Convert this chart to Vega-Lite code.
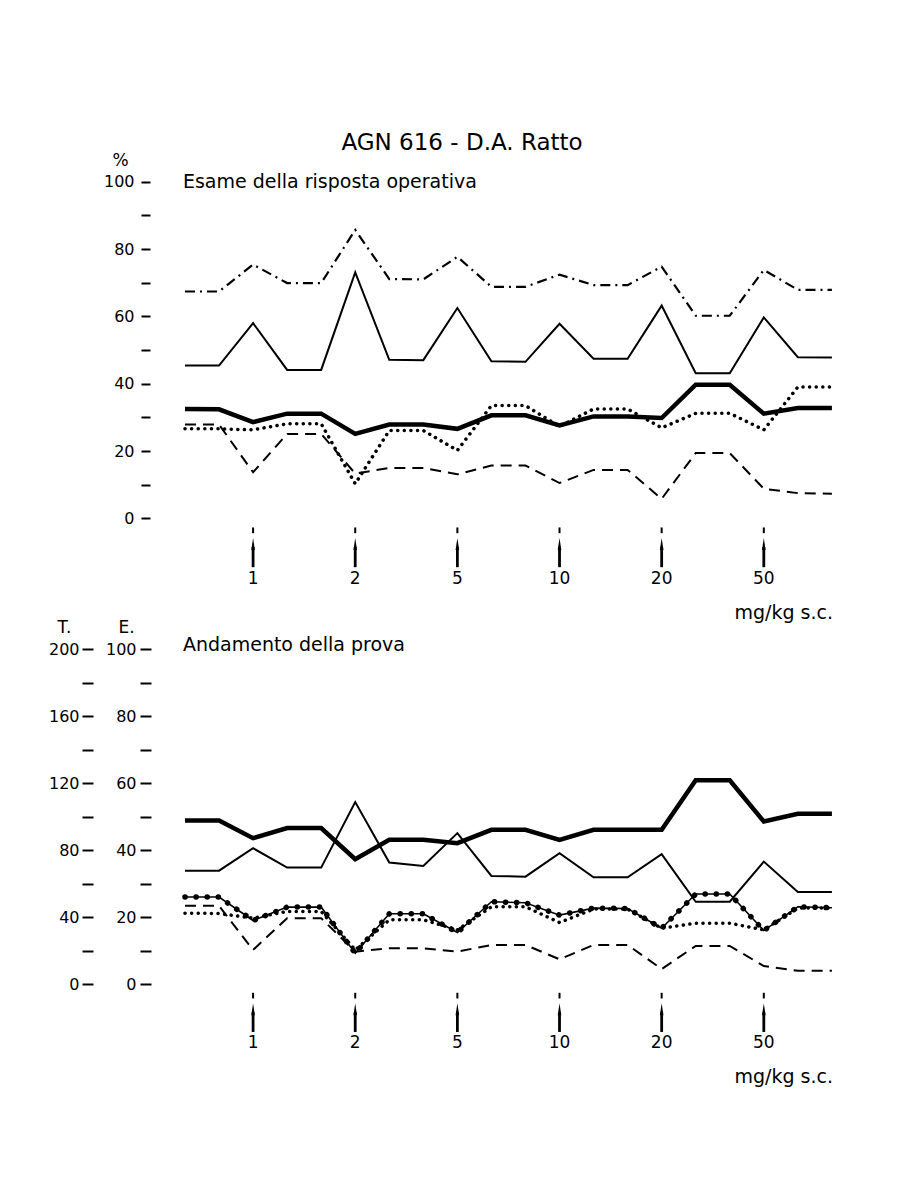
{
  "$schema": "https://vega.github.io/schema/vega-lite/v6.json",
  "width": 900,
  "height": 1200,
  "autosize": {"type": "none"},
  "padding": 0,
  "background": "white",
  "config": {"view": {"stroke": null}, "font": "DejaVu Sans", "text": {"font": "DejaVu Sans", "color": "black"}},
  "datasets": {
    "top": [
      {"i":0,"s":"dashdot","v":67.4},{"i":1,"s":"dashdot","v":67.4},{"i":2,"s":"dashdot","v":75.4},{"i":3,"s":"dashdot","v":69.9},{"i":4,"s":"dashdot","v":69.9},
      {"i":5,"s":"dashdot","v":85.7},{"i":6,"s":"dashdot","v":71.1},{"i":7,"s":"dashdot","v":71.0},{"i":8,"s":"dashdot","v":77.7},{"i":9,"s":"dashdot","v":68.8},
      {"i":10,"s":"dashdot","v":68.8},{"i":11,"s":"dashdot","v":72.4},{"i":12,"s":"dashdot","v":69.3},{"i":13,"s":"dashdot","v":69.3},{"i":14,"s":"dashdot","v":74.8},
      {"i":15,"s":"dashdot","v":60.2},{"i":16,"s":"dashdot","v":60.2},{"i":17,"s":"dashdot","v":73.8},{"i":18,"s":"dashdot","v":67.9},{"i":19,"s":"dashdot","v":67.9},
      {"i":0,"s":"thin","v":45.4},{"i":1,"s":"thin","v":45.4},{"i":2,"s":"thin","v":58.0},{"i":3,"s":"thin","v":44.1},{"i":4,"s":"thin","v":44.1},
      {"i":5,"s":"thin","v":73.1},{"i":6,"s":"thin","v":47.1},{"i":7,"s":"thin","v":47.0},{"i":8,"s":"thin","v":62.5},{"i":9,"s":"thin","v":46.7},
      {"i":10,"s":"thin","v":46.5},{"i":11,"s":"thin","v":57.8},{"i":12,"s":"thin","v":47.4},{"i":13,"s":"thin","v":47.4},{"i":14,"s":"thin","v":63.2},
      {"i":15,"s":"thin","v":43.1},{"i":16,"s":"thin","v":43.1},{"i":17,"s":"thin","v":59.7},{"i":18,"s":"thin","v":47.9},{"i":19,"s":"thin","v":47.8},
      {"i":0,"s":"thick","v":32.5},{"i":1,"s":"thick","v":32.4},{"i":2,"s":"thick","v":28.6},{"i":3,"s":"thick","v":31.1},{"i":4,"s":"thick","v":31.1},
      {"i":5,"s":"thick","v":25.1},{"i":6,"s":"thick","v":27.9},{"i":7,"s":"thick","v":27.9},{"i":8,"s":"thick","v":26.6},{"i":9,"s":"thick","v":30.6},
      {"i":10,"s":"thick","v":30.6},{"i":11,"s":"thick","v":27.6},{"i":12,"s":"thick","v":30.3},{"i":13,"s":"thick","v":30.3},{"i":14,"s":"thick","v":29.8},
      {"i":15,"s":"thick","v":39.7},{"i":16,"s":"thick","v":39.7},{"i":17,"s":"thick","v":31.1},{"i":18,"s":"thick","v":32.8},{"i":19,"s":"thick","v":32.8},
      {"i":0,"s":"dotted","v":26.6},{"i":1,"s":"dotted","v":26.6},{"i":2,"s":"dotted","v":26.3},{"i":3,"s":"dotted","v":28.1},{"i":4,"s":"dotted","v":28.1},
      {"i":5,"s":"dotted","v":10.3},{"i":6,"s":"dotted","v":26.1},{"i":7,"s":"dotted","v":26.1},{"i":8,"s":"dotted","v":20.2},{"i":9,"s":"dotted","v":33.5},
      {"i":10,"s":"dotted","v":33.5},{"i":11,"s":"dotted","v":27.3},{"i":12,"s":"dotted","v":32.5},{"i":13,"s":"dotted","v":32.5},{"i":14,"s":"dotted","v":26.9},
      {"i":15,"s":"dotted","v":31.2},{"i":16,"s":"dotted","v":31.2},{"i":17,"s":"dotted","v":26.3},{"i":18,"s":"dotted","v":39.0},{"i":19,"s":"dotted","v":39.0},
      {"i":0,"s":"dashed","v":27.9},{"i":1,"s":"dashed","v":27.9},{"i":2,"s":"dashed","v":13.7},{"i":3,"s":"dashed","v":25.1},{"i":4,"s":"dashed","v":25.1},
      {"i":5,"s":"dashed","v":13.3},{"i":6,"s":"dashed","v":15.0},{"i":7,"s":"dashed","v":15.0},{"i":8,"s":"dashed","v":13.1},{"i":9,"s":"dashed","v":15.7},
      {"i":10,"s":"dashed","v":15.7},{"i":11,"s":"dashed","v":10.5},{"i":12,"s":"dashed","v":14.4},{"i":13,"s":"dashed","v":14.4},{"i":14,"s":"dashed","v":5.8},
      {"i":15,"s":"dashed","v":19.4},{"i":16,"s":"dashed","v":19.4},{"i":17,"s":"dashed","v":8.8},{"i":18,"s":"dashed","v":7.5},{"i":19,"s":"dashed","v":7.3}
    ],
    "bottom": [
      {"i":0,"s":"thick","v":48.9},{"i":1,"s":"thick","v":48.9},{"i":2,"s":"thick","v":43.6},{"i":3,"s":"thick","v":46.6},{"i":4,"s":"thick","v":46.6},
      {"i":5,"s":"thick","v":37.3},{"i":6,"s":"thick","v":43.1},{"i":7,"s":"thick","v":43.1},{"i":8,"s":"thick","v":42.1},{"i":9,"s":"thick","v":46.1},
      {"i":10,"s":"thick","v":46.1},{"i":11,"s":"thick","v":43.1},{"i":12,"s":"thick","v":46.1},{"i":13,"s":"thick","v":46.1},{"i":14,"s":"thick","v":46.1},
      {"i":15,"s":"thick","v":60.9},{"i":16,"s":"thick","v":60.9},{"i":17,"s":"thick","v":48.6},{"i":18,"s":"thick","v":50.9},{"i":19,"s":"thick","v":50.9},
      {"i":0,"s":"thin","v":33.9},{"i":1,"s":"thin","v":33.9},{"i":2,"s":"thin","v":40.6},{"i":3,"s":"thin","v":34.8},{"i":4,"s":"thin","v":34.8},
      {"i":5,"s":"thin","v":54.4},{"i":6,"s":"thin","v":36.3},{"i":7,"s":"thin","v":35.3},{"i":8,"s":"thin","v":45.1},{"i":9,"s":"thin","v":32.3},
      {"i":10,"s":"thin","v":32.1},{"i":11,"s":"thin","v":39.1},{"i":12,"s":"thin","v":31.9},{"i":13,"s":"thin","v":31.9},{"i":14,"s":"thin","v":38.8},
      {"i":15,"s":"thin","v":24.6},{"i":16,"s":"thin","v":24.6},{"i":17,"s":"thin","v":36.6},{"i":18,"s":"thin","v":27.5},{"i":19,"s":"thin","v":27.5},
      {"i":0,"s":"dotsolid","v":26.0},{"i":1,"s":"dotsolid","v":26.0},{"i":2,"s":"dotsolid","v":19.0},{"i":3,"s":"dotsolid","v":23.0},{"i":4,"s":"dotsolid","v":23.0},
      {"i":5,"s":"dotsolid","v":9.2},{"i":6,"s":"dotsolid","v":21.0},{"i":7,"s":"dotsolid","v":21.0},{"i":8,"s":"dotsolid","v":15.4},{"i":9,"s":"dotsolid","v":24.6},
      {"i":10,"s":"dotsolid","v":24.3},{"i":11,"s":"dotsolid","v":20.6},{"i":12,"s":"dotsolid","v":22.7},{"i":13,"s":"dotsolid","v":22.6},{"i":14,"s":"dotsolid","v":16.7},
      {"i":15,"s":"dotsolid","v":26.9},{"i":16,"s":"dotsolid","v":26.9},{"i":17,"s":"dotsolid","v":16.0},{"i":18,"s":"dotsolid","v":23.1},{"i":19,"s":"dotsolid","v":22.8},
      {"i":0,"s":"dotted","v":21.2},{"i":1,"s":"dotted","v":21.1},{"i":2,"s":"dotted","v":19.7},{"i":3,"s":"dotted","v":21.7},{"i":4,"s":"dotted","v":21.7},
      {"i":5,"s":"dotted","v":10.2},{"i":6,"s":"dotted","v":19.2},{"i":7,"s":"dotted","v":19.2},{"i":8,"s":"dotted","v":16.2},{"i":9,"s":"dotted","v":23.1},
      {"i":10,"s":"dotted","v":23.1},{"i":11,"s":"dotted","v":18.4},{"i":12,"s":"dotted","v":22.4},{"i":13,"s":"dotted","v":22.4},{"i":14,"s":"dotted","v":16.7},
      {"i":15,"s":"dotted","v":18.2},{"i":16,"s":"dotted","v":18.2},{"i":17,"s":"dotted","v":16.2},{"i":18,"s":"dotted","v":22.7},{"i":19,"s":"dotted","v":22.7},
      {"i":0,"s":"dashed","v":23.4},{"i":1,"s":"dashed","v":23.4},{"i":2,"s":"dashed","v":10.2},{"i":3,"s":"dashed","v":19.7},{"i":4,"s":"dashed","v":19.7},
      {"i":5,"s":"dashed","v":9.7},{"i":6,"s":"dashed","v":10.7},{"i":7,"s":"dashed","v":10.7},{"i":8,"s":"dashed","v":9.7},{"i":9,"s":"dashed","v":11.7},
      {"i":10,"s":"dashed","v":11.7},{"i":11,"s":"dashed","v":7.4},{"i":12,"s":"dashed","v":11.7},{"i":13,"s":"dashed","v":11.7},{"i":14,"s":"dashed","v":4.5},
      {"i":15,"s":"dashed","v":11.4},{"i":16,"s":"dashed","v":11.4},{"i":17,"s":"dashed","v":5.4},{"i":18,"s":"dashed","v":4.0},{"i":19,"s":"dashed","v":4.0}
    ],
    "doses": [
      {"i":2,"dose":"1"},{"i":5,"dose":"2"},{"i":8,"dose":"5"},{"i":11,"dose":"10"},{"i":14,"dose":"20"},{"i":17,"dose":"50"}
    ]
  },
  "layer": [
    {
      "layer": [
        {
          "data": {"name": "top"},
          "transform": [{"filter": "datum.s === 'dashdot'"}],
          "mark": {"type": "line", "color": "black", "strokeWidth": 2.2, "strokeDash": [10, 5, 2, 5]},
          "encoding": {
            "x": {"field": "i", "type": "quantitative", "scale": {"domain": [-5.433, 21.0], "nice": false, "zero": false}, "axis": null},
            "y": {"field": "v", "type": "quantitative", "scale": {"domain": [-202.5, 154.0], "nice": false, "zero": false},
              "axis": {"orient": "left", "offset": -150, "values": [0,10,20,30,40,50,60,70,80,90,100],
                "labelExpr": "datum.value % 20 === 0 ? datum.label : ''",
                "domain": false, "grid": false, "tickSize": 9, "tickWidth": 2, "tickColor": "black",
                "labelPadding": 7, "labelFontSize": 16, "labelColor": "black", "labelFont": "DejaVu Sans",
                "labelOverlap": false, "labelFlush": false, "labelBound": false,
                "title": "%", "titleAngle": 0, "titleX": -30, "titleY": 160, "titleAlign": "center", "titleBaseline": "middle",
                "titleFontSize": 17, "titleFontWeight": "normal", "titleColor": "black", "titleFont": "DejaVu Sans"}}
          }
        },
        {
          "data": {"name": "top"},
          "transform": [{"filter": "datum.s === 'thin'"}],
          "mark": {"type": "line", "color": "black", "strokeWidth": 2},
          "encoding": {
            "x": {"field": "i", "type": "quantitative", "scale": {"domain": [-5.433, 21.0], "nice": false, "zero": false}, "axis": null},
            "y": {"field": "v", "type": "quantitative", "scale": {"domain": [-202.5, 154.0], "nice": false, "zero": false}, "axis": null}
          }
        },
        {
          "data": {"name": "top"},
          "transform": [{"filter": "datum.s === 'thick'"}],
          "mark": {"type": "line", "color": "black", "strokeWidth": 4.5},
          "encoding": {
            "x": {"field": "i", "type": "quantitative", "scale": {"domain": [-5.433, 21.0], "nice": false, "zero": false}, "axis": null},
            "y": {"field": "v", "type": "quantitative", "scale": {"domain": [-202.5, 154.0], "nice": false, "zero": false}, "axis": null}
          }
        },
        {
          "data": {"name": "top"},
          "transform": [{"filter": "datum.s === 'dotted'"}],
          "mark": {"type": "line", "color": "black", "strokeWidth": 3.5, "strokeDash": [0.1, 6.5], "strokeCap": "round"},
          "encoding": {
            "x": {"field": "i", "type": "quantitative", "scale": {"domain": [-5.433, 21.0], "nice": false, "zero": false}, "axis": null},
            "y": {"field": "v", "type": "quantitative", "scale": {"domain": [-202.5, 154.0], "nice": false, "zero": false}, "axis": null}
          }
        },
        {
          "data": {"name": "top"},
          "transform": [{"filter": "datum.s === 'dashed'"}],
          "mark": {"type": "line", "color": "black", "strokeWidth": 2, "strokeDash": [11, 7]},
          "encoding": {
            "x": {"field": "i", "type": "quantitative", "scale": {"domain": [-5.433, 21.0], "nice": false, "zero": false}, "axis": null},
            "y": {"field": "v", "type": "quantitative", "scale": {"domain": [-202.5, 154.0], "nice": false, "zero": false}, "axis": null}
          }
        },
        {
          "data": {"values": [{"text": "AGN 616 - D.A. Ratto"}]},
          "mark": {"type": "text", "fontSize": 23, "align": "center", "baseline": "middle", "color": "black"},
          "encoding": {
            "text": {"field": "text"},
            "x": {"datum": 8.136, "type": "quantitative", "scale": {"domain": [-5.433, 21.0], "nice": false, "zero": false}, "axis": null},
            "y": {"datum": 111.5, "type": "quantitative", "scale": {"domain": [-202.5, 154.0], "nice": false, "zero": false}, "axis": null}
          }
        },
        {
          "data": {"values": [{"text": "Esame della risposta operativa"}]},
          "mark": {"type": "text", "fontSize": 19, "align": "left", "baseline": "middle", "color": "black"},
          "encoding": {
            "text": {"field": "text"},
            "x": {"datum": -0.06, "type": "quantitative", "scale": {"domain": [-5.433, 21.0], "nice": false, "zero": false}, "axis": null},
            "y": {"datum": 100, "type": "quantitative", "scale": {"domain": [-202.5, 154.0], "nice": false, "zero": false}, "axis": null}
          }
        },
        {
          "data": {"name": "doses"},
          "mark": {"type": "rule", "color": "black", "strokeWidth": 2},
          "encoding": {
            "x": {"field": "i", "type": "quantitative", "scale": {"domain": [-5.433, 21.0], "nice": false, "zero": false}, "axis": null},
            "y": {"datum": -2.7, "type": "quantitative", "scale": {"domain": [-202.5, 154.0], "nice": false, "zero": false}, "axis": null},
            "y2": {"datum": -4.4}
          }
        },
        {
          "data": {"name": "doses"},
          "mark": {"type": "rule", "color": "black", "strokeWidth": 2.8},
          "encoding": {
            "x": {"field": "i", "type": "quantitative", "scale": {"domain": [-5.433, 21.0], "nice": false, "zero": false}, "axis": null},
            "y": {"datum": -8.5, "type": "quantitative", "scale": {"domain": [-202.5, 154.0], "nice": false, "zero": false}, "axis": null},
            "y2": {"datum": -14.5}
          }
        },
        {
          "data": {"name": "doses"},
          "mark": {"type": "point", "shape": "M0,-1L0.3,1L-0.3,1Z", "size": 144, "filled": true, "color": "black", "opacity": 1},
          "encoding": {
            "x": {"field": "i", "type": "quantitative", "scale": {"domain": [-5.433, 21.0], "nice": false, "zero": false}, "axis": null},
            "y": {"datum": -7.6, "type": "quantitative", "scale": {"domain": [-202.5, 154.0], "nice": false, "zero": false}, "axis": null}
          }
        },
        {
          "data": {"name": "doses"},
          "mark": {"type": "text", "fontSize": 17, "align": "center", "baseline": "middle", "color": "black"},
          "encoding": {
            "text": {"field": "dose"},
            "x": {"field": "i", "type": "quantitative", "scale": {"domain": [-5.433, 21.0], "nice": false, "zero": false}, "axis": null},
            "y": {"datum": -18.0, "type": "quantitative", "scale": {"domain": [-202.5, 154.0], "nice": false, "zero": false}, "axis": null}
          }
        },
        {
          "data": {"values": [{"text": "mg/kg s.c."}]},
          "mark": {"type": "text", "fontSize": 19, "align": "right", "baseline": "middle", "color": "black"},
          "encoding": {
            "text": {"field": "text"},
            "x": {"datum": 19.03, "type": "quantitative", "scale": {"domain": [-5.433, 21.0], "nice": false, "zero": false}, "axis": null},
            "y": {"datum": -28.2, "type": "quantitative", "scale": {"domain": [-202.5, 154.0], "nice": false, "zero": false}, "axis": null}
          }
        }
      ],
      "resolve": {"axis": {"y": "independent"}}
    },
    {
      "layer": [
        {
          "data": {"name": "bottom"},
          "transform": [{"filter": "datum.s === 'thick'"}],
          "mark": {"type": "line", "color": "black", "strokeWidth": 4.5},
          "encoding": {
            "x": {"field": "i", "type": "quantitative", "scale": {"domain": [-5.433, 21.0], "nice": false, "zero": false}, "axis": null},
            "y": {"field": "v", "type": "quantitative", "scale": {"domain": [-64.5, 294.0], "nice": false, "zero": false},
              "axis": {"orient": "left", "offset": -151, "values": [0,10,20,30,40,50,60,70,80,90,100],
                "labelExpr": "datum.value % 20 === 0 ? datum.label : ''",
                "domain": false, "grid": false, "tickSize": 11, "tickWidth": 2, "tickColor": "black",
                "labelPadding": 4, "labelFontSize": 16, "labelColor": "black", "labelFont": "DejaVu Sans",
                "labelOverlap": false, "labelFlush": false, "labelBound": false,
                "title": "E.", "titleAngle": 0, "titleX": -25, "titleY": 627, "titleAlign": "center", "titleBaseline": "middle",
                "titleFontSize": 17, "titleFontWeight": "normal", "titleColor": "black", "titleFont": "DejaVu Sans"}}
          }
        },
        {
          "data": {"name": "bottom"},
          "transform": [{"filter": "datum.s === 'thin'"}],
          "mark": {"type": "line", "color": "black", "strokeWidth": 2},
          "encoding": {
            "x": {"field": "i", "type": "quantitative", "scale": {"domain": [-5.433, 21.0], "nice": false, "zero": false}, "axis": null},
            "y": {"field": "v", "type": "quantitative", "scale": {"domain": [-64.5, 294.0], "nice": false, "zero": false},
              "axis": {"orient": "left", "offset": -93, "values": [0,10,20,30,40,50,60,70,80,90,100],
                "labelExpr": "datum.value % 20 === 0 ? format(datum.value * 2, 'd') : ''",
                "domain": false, "grid": false, "tickSize": 11, "tickWidth": 2, "tickColor": "black",
                "labelPadding": 3, "labelFontSize": 16, "labelColor": "black", "labelFont": "DejaVu Sans",
                "labelOverlap": false, "labelFlush": false, "labelBound": false,
                "title": "T.", "titleAngle": 0, "titleX": -29, "titleY": 627, "titleAlign": "center", "titleBaseline": "middle",
                "titleFontSize": 17, "titleFontWeight": "normal", "titleColor": "black", "titleFont": "DejaVu Sans"}}
          }
        },
        {
          "data": {"name": "bottom"},
          "transform": [{"filter": "datum.s === 'dotsolid'"}],
          "mark": {"type": "line", "color": "black", "strokeWidth": 1.6},
          "encoding": {
            "x": {"field": "i", "type": "quantitative", "scale": {"domain": [-5.433, 21.0], "nice": false, "zero": false}, "axis": null},
            "y": {"field": "v", "type": "quantitative", "scale": {"domain": [-64.5, 294.0], "nice": false, "zero": false}, "axis": null}
          }
        },
        {
          "data": {"name": "bottom"},
          "transform": [{"filter": "datum.s === 'dotsolid'"}],
          "mark": {"type": "line", "color": "black", "strokeWidth": 5.5, "strokeDash": [0.1, 11], "strokeCap": "round"},
          "encoding": {
            "x": {"field": "i", "type": "quantitative", "scale": {"domain": [-5.433, 21.0], "nice": false, "zero": false}, "axis": null},
            "y": {"field": "v", "type": "quantitative", "scale": {"domain": [-64.5, 294.0], "nice": false, "zero": false}, "axis": null}
          }
        },
        {
          "data": {"name": "bottom"},
          "transform": [{"filter": "datum.s === 'dotted'"}],
          "mark": {"type": "line", "color": "black", "strokeWidth": 3.5, "strokeDash": [0.1, 6.5], "strokeCap": "round"},
          "encoding": {
            "x": {"field": "i", "type": "quantitative", "scale": {"domain": [-5.433, 21.0], "nice": false, "zero": false}, "axis": null},
            "y": {"field": "v", "type": "quantitative", "scale": {"domain": [-64.5, 294.0], "nice": false, "zero": false}, "axis": null}
          }
        },
        {
          "data": {"name": "bottom"},
          "transform": [{"filter": "datum.s === 'dashed'"}],
          "mark": {"type": "line", "color": "black", "strokeWidth": 2, "strokeDash": [11, 7]},
          "encoding": {
            "x": {"field": "i", "type": "quantitative", "scale": {"domain": [-5.433, 21.0], "nice": false, "zero": false}, "axis": null},
            "y": {"field": "v", "type": "quantitative", "scale": {"domain": [-64.5, 294.0], "nice": false, "zero": false}, "axis": null}
          }
        },
        {
          "data": {"values": [{"text": "Andamento della prova"}]},
          "mark": {"type": "text", "fontSize": 19, "align": "left", "baseline": "middle", "color": "black"},
          "encoding": {
            "text": {"field": "text"},
            "x": {"datum": -0.06, "type": "quantitative", "scale": {"domain": [-5.433, 21.0], "nice": false, "zero": false}, "axis": null},
            "y": {"datum": 101.3, "type": "quantitative", "scale": {"domain": [-64.5, 294.0], "nice": false, "zero": false}, "axis": null}
          }
        },
        {
          "data": {"name": "doses"},
          "mark": {"type": "rule", "color": "black", "strokeWidth": 2},
          "encoding": {
            "x": {"field": "i", "type": "quantitative", "scale": {"domain": [-5.433, 21.0], "nice": false, "zero": false}, "axis": null},
            "y": {"datum": -2.6, "type": "quantitative", "scale": {"domain": [-64.5, 294.0], "nice": false, "zero": false}, "axis": null},
            "y2": {"datum": -4.3}
          }
        },
        {
          "data": {"name": "doses"},
          "mark": {"type": "rule", "color": "black", "strokeWidth": 2.8},
          "encoding": {
            "x": {"field": "i", "type": "quantitative", "scale": {"domain": [-5.433, 21.0], "nice": false, "zero": false}, "axis": null},
            "y": {"datum": -8.4, "type": "quantitative", "scale": {"domain": [-64.5, 294.0], "nice": false, "zero": false}, "axis": null},
            "y2": {"datum": -14.3}
          }
        },
        {
          "data": {"name": "doses"},
          "mark": {"type": "point", "shape": "M0,-1L0.3,1L-0.3,1Z", "size": 144, "filled": true, "color": "black", "opacity": 1},
          "encoding": {
            "x": {"field": "i", "type": "quantitative", "scale": {"domain": [-5.433, 21.0], "nice": false, "zero": false}, "axis": null},
            "y": {"datum": -7.5, "type": "quantitative", "scale": {"domain": [-64.5, 294.0], "nice": false, "zero": false}, "axis": null}
          }
        },
        {
          "data": {"name": "doses"},
          "mark": {"type": "text", "fontSize": 17, "align": "center", "baseline": "middle", "color": "black"},
          "encoding": {
            "text": {"field": "dose"},
            "x": {"field": "i", "type": "quantitative", "scale": {"domain": [-5.433, 21.0], "nice": false, "zero": false}, "axis": null},
            "y": {"datum": -17.6, "type": "quantitative", "scale": {"domain": [-64.5, 294.0], "nice": false, "zero": false}, "axis": null}
          }
        },
        {
          "data": {"values": [{"text": "mg/kg s.c."}]},
          "mark": {"type": "text", "fontSize": 19, "align": "right", "baseline": "middle", "color": "black"},
          "encoding": {
            "text": {"field": "text"},
            "x": {"datum": 19.03, "type": "quantitative", "scale": {"domain": [-5.433, 21.0], "nice": false, "zero": false}, "axis": null},
            "y": {"datum": -27.8, "type": "quantitative", "scale": {"domain": [-64.5, 294.0], "nice": false, "zero": false}, "axis": null}
          }
        }
      ],
      "resolve": {"axis": {"y": "independent"}}
    }
  ],
  "resolve": {"scale": {"y": "independent"}}
}
